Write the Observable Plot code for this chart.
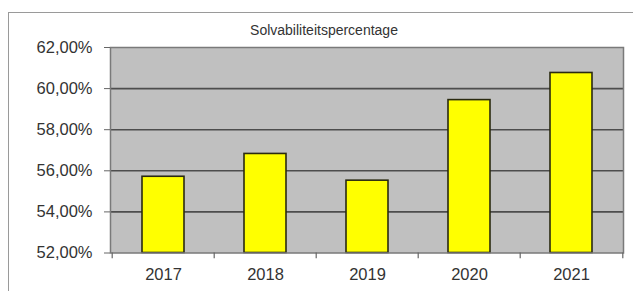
<!DOCTYPE html>
<html>
<head>
<meta charset="utf-8">
<script src="https://cdn.jsdelivr.net/npm/d3@7"></script>
<script src="https://cdn.jsdelivr.net/npm/@observablehq/plot@0.6"></script>
<style>
  html, body { margin: 0; padding: 0; background: #fff; }
  #wrap { position: relative; width: 633px; height: 291px; overflow: hidden; background: #fff; }
  #border { position: absolute; left: 8px; top: 12px; width: 640px; height: 300px;
            border-left: 1.5px solid #9a9a9a; border-top: 1.5px solid #9a9a9a; }
  #title { position: absolute; left: 324px; top: 23px; transform: translateX(-50%);
           font-family: "Liberation Sans", Arial, sans-serif; font-size: 14px; line-height: 14px;
           color: #333; white-space: nowrap; }
  #chart { position: absolute; left: 0; top: 0; }
</style>
</head>
<body>
<div id="wrap">
  <div id="border"></div>
  <div id="chart"></div>
  <div id="title">Solvabiliteitspercentage</div>
</div>
<script>
const years = ["2017", "2018", "2019", "2020", "2021"];
const values = [55.71, 56.82, 55.52, 59.44, 60.76];
const yTicks = [52, 54, 56, 58, 60, 62];
const gridValues = [54, 56, 58, 60];

const data = years.map((y, i) => ({year: y, value: values[i]}));
const fmt = d => d.toFixed(2).replace(".", ",") + "%";
const half = 513 / 5 / 2;

const plot = Plot.plot({
  width: 633,
  height: 291,
  marginLeft: 110,
  marginRight: 10,
  marginTop: 47,
  marginBottom: 38.5,
  style: {fontFamily: "'Liberation Sans', Arial, sans-serif", fontSize: "16.5px", color: "#333", background: "transparent"},
  x: {type: "band", domain: years, paddingInner: 0.59, paddingOuter: 0.295, label: null},
  y: {domain: [52, 62], label: null},
  marks: [
    Plot.frame({fill: "#c0c0c0", stroke: null}),
    Plot.ruleY(gridValues, {stroke: "#4d4d4d", strokeWidth: 1.6}),
    Plot.barY(data, {x: "year", y1: 52, y2: "value", fill: "#ffff00", stroke: "#2a2a10", strokeWidth: 1.6}),
    Plot.frame({stroke: "#7a7a7a", strokeWidth: 1.5}),
    Plot.ruleX(years, {x: d => d, y1: 52, y2: 51.72, dx: -half, stroke: "#666", strokeWidth: 1.2}),
    Plot.ruleX(years.slice(-1), {x: d => d, y1: 52, y2: 51.72, dx: half, stroke: "#666", strokeWidth: 1.2}),
    Plot.axisY({ticks: yTicks, tickFormat: fmt, tickSize: 6, tickPadding: 12, stroke: "#666", label: null}),
    Plot.axisX({tickSize: 0, tickPadding: 15, label: null})
  ]
});
document.getElementById("chart").appendChild(plot);
</script>
</body>
</html>
